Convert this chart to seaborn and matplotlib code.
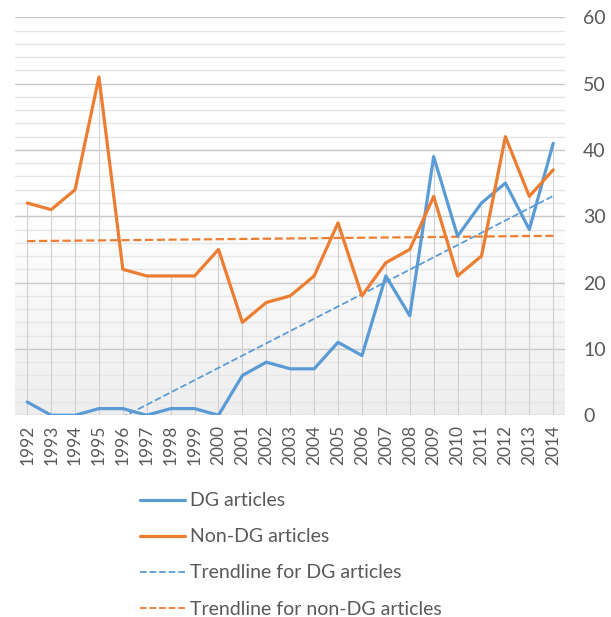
import numpy as np
import pandas as pd
import matplotlib as mpl
mpl.use('Agg')
import matplotlib.pyplot as plt
import seaborn as sns

years = list(range(1992, 2015))
dg_articles = [2, 0, 0, 1, 1, 0, 1, 1, 0, 6, 8, 7, 7, 11, 9, 21, 15, 39, 27, 32, 35, 28, 41]
non_dg_articles = [32, 31, 34, 51, 22, 21, 21, 21, 25, 14, 17, 18, 21, 29, 18, 23, 25, 33, 21, 24, 42, 33, 37]
y_ticks = [0, 10, 20, 30, 40, 50, 60]

blue = '#5B9BD5'
orange = '#ED7D31'
grey_text = '#595959'

sns.set_style('white')
plt.rcParams['font.family'] = ['Lato', 'DejaVu Sans']

df = pd.DataFrame({'year': years, 'DG articles': dg_articles, 'Non-DG articles': non_dg_articles})
long = df.melt(id_vars='year', var_name='series', value_name='count')

fig = plt.figure(figsize=(6.11, 6.17), dpi=100)
ax = fig.add_axes([0.025, 0.327, 0.9, 0.645])

# background gradient: white at top, light grey at bottom
grad = np.linspace(0, 1, 256).reshape(-1, 1)
cmap = mpl.colors.LinearSegmentedColormap.from_list('bg', ['#ffffff', '#ffffff', '#eeeeee'])
ax.imshow(grad, extent=[0, 1, 0, 1], transform=ax.transAxes, cmap=cmap,
          aspect='auto', zorder=0, origin='upper')

# horizontal grid, major every 10, minor every 2
for y in range(0, 61, 2):
    major = y % 10 == 0
    ax.axhline(y, color='#c8c8c8' if major else '#e6e6e6', lw=1.0, zorder=1)

# drop lines from the higher series down to the axis
tops = df[['DG articles', 'Non-DG articles']].max(axis=1)
ax.vlines(df['year'], 0, tops, color='#d0d0d0', lw=0.8, zorder=1)

sns.lineplot(data=long, x='year', y='count', hue='series',
             palette={'DG articles': blue, 'Non-DG articles': orange},
             lw=2.3, ax=ax, legend=False, zorder=3)

sns.regplot(data=df, x='year', y='DG articles', scatter=False, ci=None, ax=ax,
            line_kws={'color': blue, 'ls': '--', 'lw': 1.3, 'zorder': 2})
sns.regplot(data=df, x='year', y='Non-DG articles', scatter=False, ci=None, ax=ax,
            line_kws={'color': orange, 'ls': '--', 'lw': 1.6, 'zorder': 2})

ax.set_xlim(years[0] - 0.5, years[-1] + 0.5)
ax.set_ylim(0, 60)
ax.set_xticks(years)
ax.set_xticklabels([str(y) for y in years], rotation=90, color=grey_text, fontsize=12.5)
ax.yaxis.tick_right()
ax.set_yticks(y_ticks)
ax.set_yticklabels([str(v) for v in y_ticks], color=grey_text, fontsize=14)
ax.tick_params(axis='x', length=0, pad=7)
ax.tick_params(axis='y', length=0, pad=13)
ax.set_xlabel('')
ax.set_ylabel('')
for s in ax.spines.values():
    s.set_visible(False)

handles = [
    mpl.lines.Line2D([], [], color=blue, lw=2.3),
    mpl.lines.Line2D([], [], color=orange, lw=2.3),
    mpl.lines.Line2D([], [], color=blue, lw=1.3, ls='--'),
    mpl.lines.Line2D([], [], color=orange, lw=1.3, ls='--'),
]
labels = ['DG articles', 'Non-DG articles', 'Trendline for DG articles', 'Trendline for non-DG articles']
fig.legend(handles, labels, loc='upper left', bbox_to_anchor=(0.229, 0.202), frameon=False,
           fontsize=14, labelcolor=grey_text, handlelength=2.3, handletextpad=0.3,
           labelspacing=0.98, borderaxespad=0, borderpad=0)

fig.savefig('out.png', dpi=100)
